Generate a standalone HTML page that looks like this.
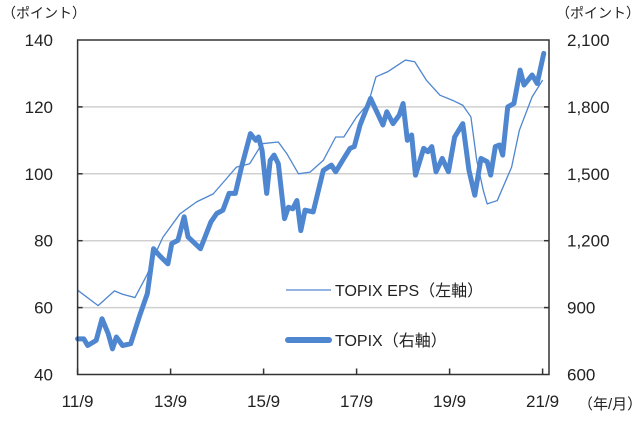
<!DOCTYPE html>
<html><head><meta charset="utf-8"><style>
html,body{margin:0;padding:0;background:#fff;}
svg text{font-family:"Liberation Sans","Noto Sans CJK JP",sans-serif;fill:#222;}
</style></head><body>
<svg id="chart" width="640" height="417" viewBox="0 0 640 417" xmlns="http://www.w3.org/2000/svg">
<g id="grid"></g>
<g id="series"></g>
<g id="axes"></g>
<text x="2" y="18" font-size="14">（ポイント）</text>
<text x="556" y="18" font-size="14">（ポイント）</text>
<text x="578" y="409" font-size="15">（年/月）</text>
<g>
<line x1="286" y1="290" x2="331" y2="290" stroke="#4f86d0" stroke-width="1.3"/>
<text x="335" y="296" font-size="16">TOPIX EPS（左軸）</text>
<line x1="288" y1="340" x2="329" y2="340" stroke="#4f86d0" stroke-width="6" stroke-linecap="round"/>
<text x="335" y="346" font-size="16">TOPIX（右軸）</text>
</g>
</svg>
<script>
const xTickLabels=["11/9","13/9","15/9","17/9","19/9","21/9"];
const leftTicks=[40,60,80,100,120,140];
const rightTickLabels=["600","900","1,200","1,500","1,800","2,100"];
const epsMonths=[0,5.3,9.5,11.6,14.8,18,20,22,26.4,30.7,35,38,41,44.4,47.6,51.8,54,57,60,63.4,66.6,68.7,72,75,77,80,84.6,87,90,93.5,96.7,99.4,101.5,103,104.7,105.7,108.3,112,114,117.3,120];
const epsValues=[65.2,60.6,65,64,63,70,76,81,88,91.6,94,98,102,103,109,109.5,106,100,100.5,104,111,111,117,121,129,130.5,134,133.5,128,123.5,122,120.5,117,104,95,91,92,102,113,123,128];
const topixMonths=[0,1.6,2.6,4.8,6.3,7.9,9,10,11.6,13.7,15.9,18,19.6,21.1,23.3,24.3,25.9,27.5,28.5,31.7,34.4,35.9,37.5,39.1,40.7,42.3,44.6,46,46.7,47.6,48.8,49.7,50.7,51.8,53.4,54.4,55.5,56.6,57.6,58.7,60.8,63.4,65.5,66.6,68.7,70.3,71.4,72.9,75.6,78.8,79.8,81.4,83,84,85.1,86.2,87.2,89.3,90.4,91.4,92.5,94.1,95.7,97.3,99.4,101,102.5,104.1,105.7,106.6,107.8,108.9,109.7,111,112.6,114.2,115.2,117.3,118.6,120.3];
const topixValues=[760,760,730,753,850,783,715,768,730,738,858,963,1164,1134,1096,1187,1202,1307,1217,1164,1284,1322,1337,1412,1412,1530,1680,1650,1665,1605,1412,1560,1584,1545,1299,1350,1343,1380,1245,1337,1329,1515,1539,1509,1569,1614,1622,1719,1838,1719,1778,1725,1763,1815,1650,1674,1494,1614,1599,1622,1509,1569,1509,1665,1725,1515,1404,1569,1554,1494,1622,1629,1584,1800,1815,1965,1898,1943,1905,2040];
const NS="http://www.w3.org/2000/svg";
const X0=77.6,X1=549,Y0=40,Y1=374.5,PX_PER_MONTH=3.875;
const x=m=>X0+m*PX_PER_MONTH;
const yL=v=>Y1-(v-40)/100*(Y1-Y0);
const yR=v=>Y1-(v-600)/1500*(Y1-Y0);
function mk(tag,attrs,parent){const e=document.createElementNS(NS,tag);for(const k in attrs)e.setAttribute(k,attrs[k]);parent.appendChild(e);return e;}
const grid=document.getElementById('grid'),axes=document.getElementById('axes'),series=document.getElementById('series');
leftTicks.forEach((v,i)=>{
 const y=yL(v);
 if(i>0&&i<leftTicks.length-1){const g=mk('line',{x1:X0,x2:X1,y1:y,y2:y,stroke:'#d0d0d0','stroke-width':1.5},grid);
 
 }
 const t=mk('text',{x:53,y:y+6,'font-size':17,'text-anchor':'end'},axes);t.textContent=v;
 
 
 const r=mk('text',{x:567,y:y+6,'font-size':17},axes);r.textContent=rightTickLabels[i];
 
 
 if(i>0&&i<leftTicks.length-1){
  mk('line',{x1:X0,x2:X0+5,y1:y,y2:y,stroke:'#333','stroke-width':1.5},axes);
  mk('line',{x1:X1-5,x2:X1,y1:y,y2:y,stroke:'#333','stroke-width':1.5},axes);
 }
});
xTickLabels.forEach((l,i)=>{
 const xx=x(i*24);
 mk('line',{x1:xx,x2:xx,y1:Y1,y2:Y1-6,stroke:'#333','stroke-width':1.5},axes);
 const t=mk('text',{x:xx,y:407,'font-size':17,'text-anchor':'middle'},axes);t.textContent=l;
 
 
});
const frame=mk('rect',{x:X0,y:Y0,width:X1-X0,height:Y1-Y0,fill:'none',stroke:'#333','stroke-width':1.5},axes);


const eps=mk('polyline',{points:epsMonths.map((m,i)=>x(m)+','+yL(epsValues[i])).join(' '),fill:'none',stroke:'#4f86d0','stroke-width':1.3,'stroke-linejoin':'round'},series);


const tp=mk('polyline',{points:topixMonths.map((m,i)=>x(m)+','+yR(topixValues[i])).join(' '),fill:'none',stroke:'#4f86d0','stroke-width':5,'stroke-linejoin':'round','stroke-linecap':'round'},series);


</script>
</body></html>
